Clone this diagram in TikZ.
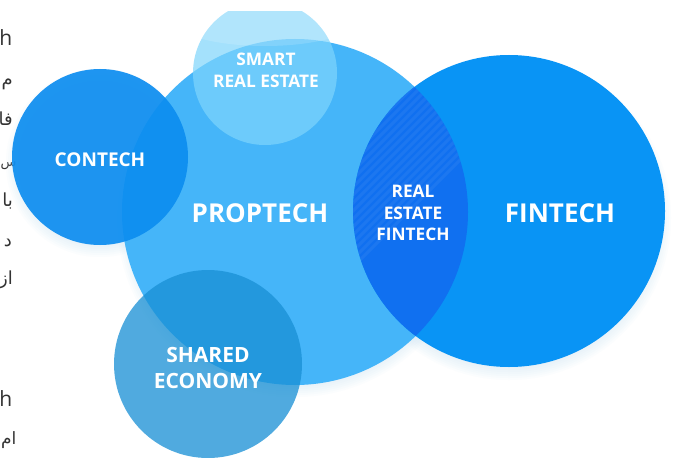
\documentclass[tikz,border=0pt]{standalone}
\usepackage{fontspec}
\setmainfont{Open Sans}
\newfontfamily\arabicfont[Script=Arabic]{DejaVu Sans}
\TeXXeTstate=1
\definecolor{propc}{HTML}{45B5F9}
\definecolor{conc}{HTML}{0C8DF0}
\definecolor{finc}{HTML}{0994F5}
\definecolor{lensc}{HTML}{1070F0}
\definecolor{smartc}{HTML}{7ED5FC}
\definecolor{sharedc}{HTML}{1990D5}
\definecolor{glowc}{HTML}{C9E4F8}
\definecolor{txtc}{HTML}{333333}
\tikzset{
  biglbl/.style={text=white, inner sep=0pt, font=\bfseries\fontsize{26}{30}\selectfont},
  midlbl/.style={text=white, inner sep=0pt, font=\bfseries\fontsize{19}{22}\selectfont},
  smalllbl/.style={text=white, inner sep=0pt, align=center, font=\bfseries\fontsize{17.3}{21.5}\selectfont},
  sharedlbl/.style={text=white, inner sep=0pt, align=center, font=\bfseries\fontsize{21}{26}\selectfont},
  pagetxt/.style={text=txtc, inner sep=0pt, anchor=base east},
  pagetxtw/.style={text=txtc, inner sep=0pt, anchor=base west},
  glow/.style={fill=glowc, opacity=0.07}
}
\begin{document}
\begin{tikzpicture}[x=1pt,y=-1pt]
\useasboundingbox (0,0) rectangle (676,457);
\fill[white] (0,0) rectangle (676,457);

% fragments of the page text on the left
\node[pagetxt, font=\fontsize{21}{21}\selectfont] (p0) at (12.5,46) {h};
\node[pagetxt, font=\arabicfont\fontsize{18}{18}\selectfont] (p1) at (13,86) {\beginR م\endR};
\node[pagetxt, font=\arabicfont\fontsize{18}{18}\selectfont] (p2) at (13,126) {\beginR فا\endR};
\node[pagetxtw, font=\arabicfont\fontsize{13}{13}\selectfont] (p3) at (0.5,166) {\beginR س\endR};
\node[pagetxt, font=\arabicfont\fontsize{18}{18}\selectfont] (p4) at (13,206) {\beginR با\endR};
\node[pagetxt, font=\arabicfont\fontsize{18}{18}\selectfont] (p5) at (12,246) {\beginR د\endR};
\node[pagetxt, font=\arabicfont\fontsize{18}{18}\selectfont] (p6) at (13,284) {\beginR از\endR};
\node[pagetxt, font=\fontsize{21}{21}\selectfont] (p7) at (12.5,406) {h};
\node[pagetxtw, font=\arabicfont\fontsize{17}{17}\selectfont] (p8) at (1,444) {\beginR ام\endR};

\begin{scope}
\clip (0,12) rectangle (676,457);
% soft shadows
\foreach \k in {0,...,6} {
  \fill[glow] (100,163) circle[radius={82+2*\k}];
  \fill[glow] (295,219) circle[radius={166+2*\k}];
  \fill[glow] (509,218) circle[radius={150+2*\k}];
}
\fill[propc] (295,212) circle[radius=173];
\fill[conc, opacity=0.92] (100,157) circle[radius=88];
\fill[finc] (509,211) circle[radius=156];
\begin{scope}
  \clip (295,212) circle[radius=173];
  \clip (509,211) circle[radius=156];
  \fill[lensc] (509,211) circle[radius=156];
  \foreach \i in {-420,-412,...,220} {
    \draw[white, opacity=0.05, line width=3] (\i,400) -- (\i+360,40);
  }
\end{scope}
\fill[smartc, opacity=0.7] (265,73) circle[radius=72];
\begin{scope}
  \clip (265,73) circle[radius=72];
  \fill[white, opacity=0.15] (265,18) ellipse[x radius=95, y radius=28];
\end{scope}
\fill[sharedc, opacity=0.76] (208,364) circle[radius=94];
\end{scope}

% labels
\node[biglbl] (tprop) at (260,213) {PROPTECH};
\node[biglbl] (tfin) at (560,213) {FINTECH};
\node[midlbl] (tcon) at (100,159.5) {CONTECH};
\node[smalllbl] (tsmart) at (266,70.5) {SMART\\REAL ESTATE};
\node[smalllbl] (tlens) at (413,213) {REAL\\ESTATE\\FINTECH};
\node[sharedlbl] (tshared) at (208,367.5) {SHARED\\ECONOMY};
\end{tikzpicture}
\end{document}
